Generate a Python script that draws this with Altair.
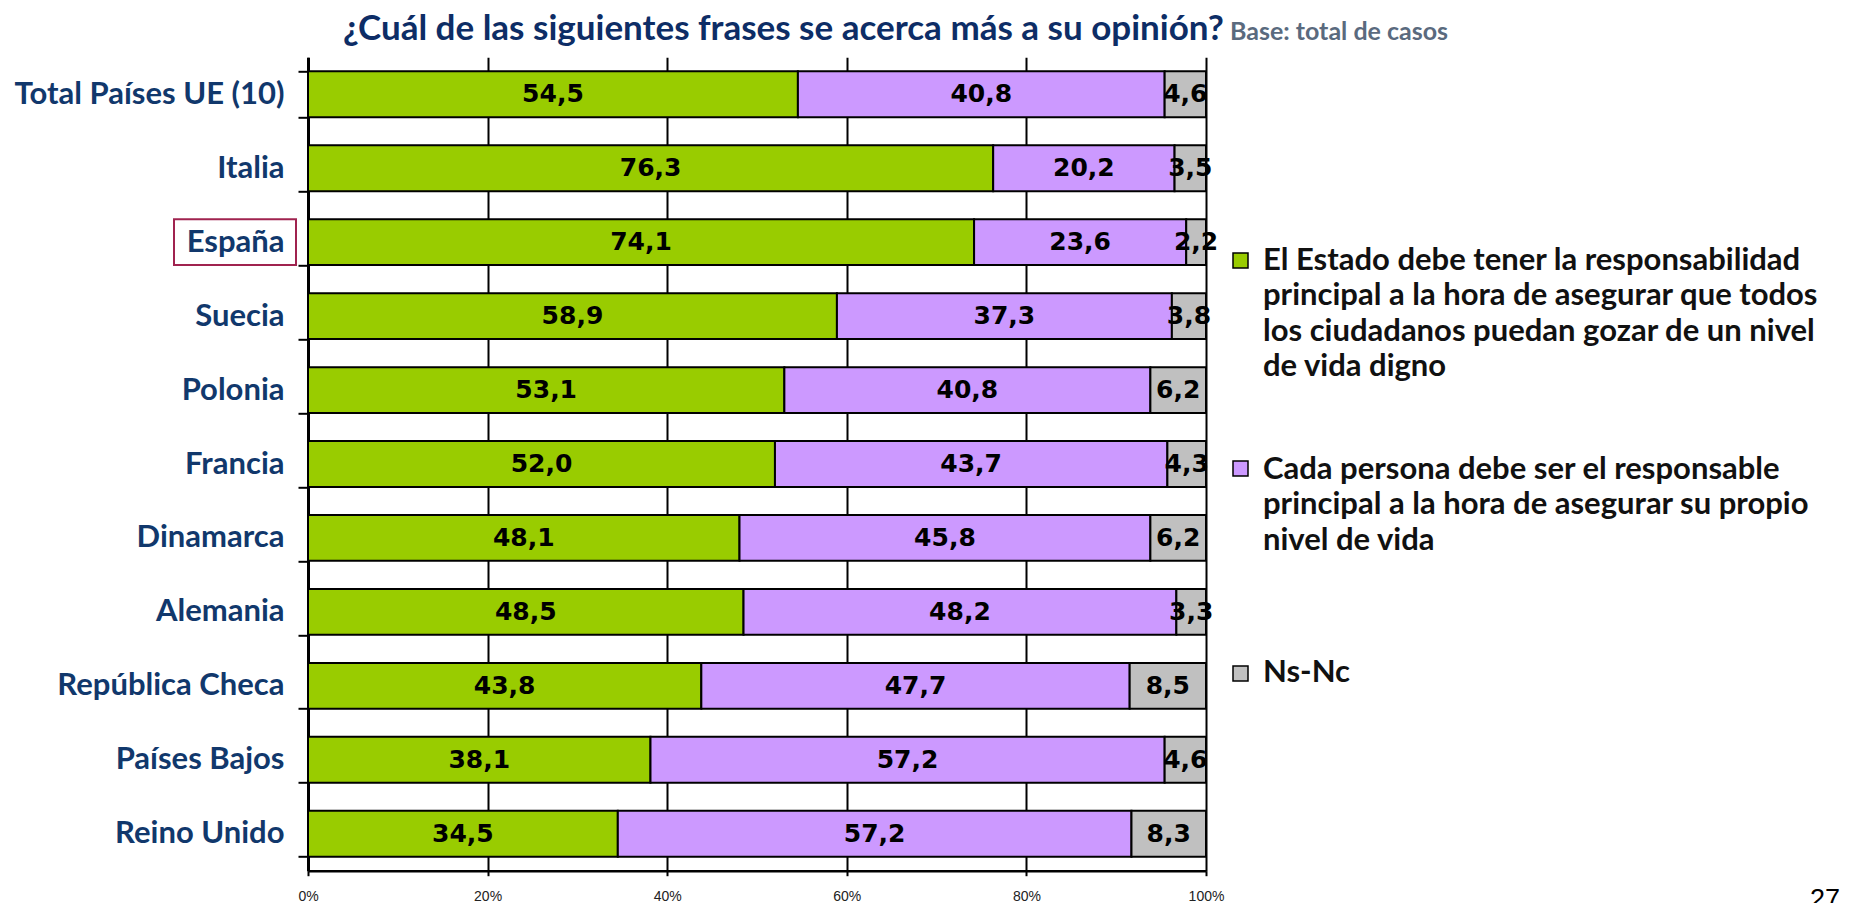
import altair as alt
import pandas as pd

# ---------------- data ----------------
countries = ["Total Países UE (10)", "Italia", "España", "Suecia", "Polonia", "Francia",
             "Dinamarca", "Alemania", "República Checa", "Países Bajos", "Reino Unido"]
estado = [54.5, 76.3, 74.1, 58.9, 53.1, 52.0, 48.1, 48.5, 43.8, 38.1, 34.5]
persona = [40.8, 20.2, 23.6, 37.3, 40.8, 43.7, 45.8, 48.2, 47.7, 57.2, 57.2]
nsnc = [4.6, 3.5, 2.2, 3.8, 6.2, 4.3, 6.2, 3.3, 8.5, 4.6, 8.3]

series = ["Estado", "Persona", "Ns-Nc"]
series_colors = ["#99CC00", "#CC99FF", "#C0C0C0"]
legend_lines = [
    ["El Estado debe tener la responsabilidad",
     "principal a la hora de asegurar que todos",
     "los ciudadanos puedan gozar de un nivel",
     "de vida digno"],
    ["Cada persona debe ser el responsable",
     "principal a la hora de asegurar su propio",
     "nivel de vida"],
    ["Ns-Nc"],
]
title_text = "¿Cuál de las siguientes frases se acerca más a su opinión?"
subtitle_text = "Base: total de casos"
page_number = "27"
highlight = "España"
x_ticks = [0, 0.2, 0.4, 0.6, 0.8, 1.0]

rows = []
for i, s in enumerate(series):
    vals = [estado, persona, nsnc][i]
    for c, v in zip(countries, vals):
        rows.append({"country": c, "serie": s, "idx": i, "value": v})
df = pd.DataFrame(rows)

# ---------------- style ----------------
navy = "#11386C"
title_navy = "#0D2D66"
W, H = 898, 813.4

y_axis = alt.Axis(
    title=None, tickBand="extent", domainColor="black", domainWidth=3,
    tickColor="black", tickWidth=2, tickSize=10, labelFont="Lato",
    labelFontWeight="bold", labelFontSize=31, labelColor=navy, labelPadding=14,
    labelLimit=0, grid=False,
    labelExpr="datum.value == 'Italia' ? 'Italia\u00a0' : datum.value",
)
x_axis = alt.Axis(
    title=None, values=x_ticks, format="%", grid=True, gridColor="black",
    gridWidth=2, gridOpacity=1, domainColor="black", domainWidth=2.5,
    tickColor="black", tickSize=5, tickWidth=2, labelFont="Liberation Sans",
    labelFontSize=14, labelColor="#222222", labelPadding=14, labelFlush=False,
)
y_enc = alt.Y("country:N", sort=countries, axis=y_axis,
              scale=alt.Scale(paddingInner=0.38, paddingOuter=0.19))

bars = alt.Chart(df).mark_bar(stroke="black", strokeWidth=2).encode(
    y=y_enc,
    x=alt.X("value:Q", stack="normalize", axis=x_axis,
            scale=alt.Scale(domain=[0, 1], nice=False)),
    color=alt.Color("serie:N", scale=alt.Scale(domain=series, range=series_colors), legend=None),
    order=alt.Order("idx:Q"),
)

labels = alt.Chart(df).transform_joinaggregate(
    total="sum(value)", groupby=["country"]
).transform_window(
    cum="sum(value)", groupby=["country"], sort=[alt.SortField("idx")], frame=[None, 0]
).transform_calculate(
    mid="(datum.cum - datum.value / 2) / datum.total",
    label="replace(format(datum.value, '.1f'), '.', ',')",
).mark_text(font="DejaVu Sans", fontWeight="bold", fontSize=25, color="black").encode(
    y=y_enc,
    x=alt.X("mid:Q", axis=x_axis, scale=alt.Scale(domain=[0, 1], nice=False)),
    text="label:N",
)

box = alt.Chart(df).transform_filter(
    (alt.datum.country == highlight) & (alt.datum.idx == 0)
).mark_rect(filled=False, stroke="#A0234F", strokeWidth=2).encode(
    y=y_enc, x=alt.value(-134), x2=alt.value(-12)
)

one = pd.DataFrame({"k": [0]})
title = alt.Chart(one).mark_text(
    text=title_text, align="left", baseline="alphabetic", font="Lato",
    fontWeight="bold", fontSize=35, color=title_navy
).encode(x=alt.value(35), y=alt.value(-17.3))
subtitle = alt.Chart(one).mark_text(
    text=subtitle_text, align="left", baseline="alphabetic", font="Lato",
    fontWeight="bold", fontSize=25, color="#5A6A7E"
).encode(x=alt.value(922), y=alt.value(-17.3))

legend_layers = []
sq_y = [195.7, 403.7, 608.7]
txt_y = [212.3, 421.6, 625.0]
for i in range(3):
    legend_layers.append(alt.Chart(one).mark_rect(
        fill=series_colors[i], stroke="black", strokeWidth=1.5
    ).encode(x=alt.value(925), x2=alt.value(940), y=alt.value(sq_y[i]), y2=alt.value(sq_y[i] + 15)))
    legend_layers.append(alt.Chart(one).mark_text(
        text=legend_lines[i], align="left", baseline="alphabetic", font="Lato",
        fontWeight="bold", fontSize=31, lineHeight=35.5, color="#111111"
    ).encode(x=alt.value(955), y=alt.value(txt_y[i])))

page = alt.Chart(one).mark_text(
    text=page_number, align="left", baseline="alphabetic", font="Liberation Sans",
    fontSize=27, color="black"
).encode(x=alt.value(1502), y=alt.value(850.7))

chart = alt.layer(bars, labels, box, title, subtitle, *legend_layers, page).properties(
    width=W, height=H,
    autosize=alt.AutoSizeParams(type="none"),
    padding={"left": 300, "top": 49.3, "right": 640, "bottom": 32.3},
    background="white",
).configure_view(stroke=None)

chart.save("out.html", embed_options={"renderer": "svg", "actions": False})
